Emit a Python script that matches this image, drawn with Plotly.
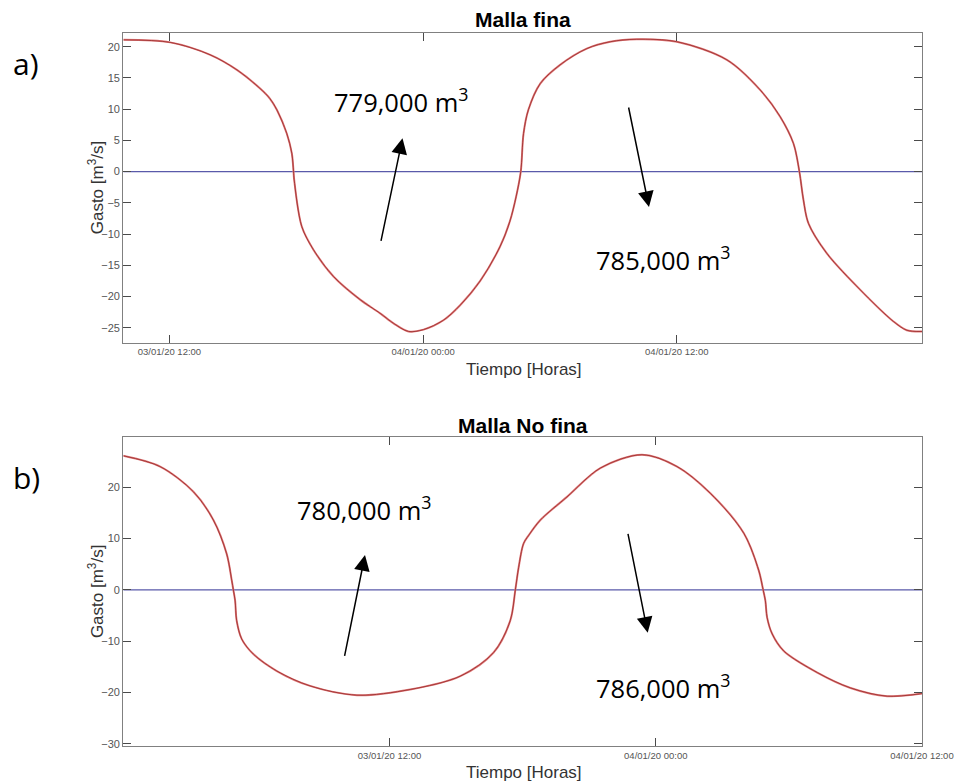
import pandas as pd
import plotly.graph_objects as go

# ---------------- data ----------------
t0 = pd.Timestamp("2020-01-03 00:00")

# a) Malla fina: hours since 03/01/20 00:00 and discharge [m3/s]
hours_fina = [9.82, 12.03, 13.93, 15.19, 16.29, 16.75, 17.08, 17.55, 17.79, 17.87,
              17.9, 18.26, 18.81, 19.76, 21.02, 21.97, 22.6, 23.31, 24.02, 24.96,
              25.75, 26.7, 27.64, 28.1, 28.4, 28.62, 28.75, 28.98, 29.54, 30.48,
              31.74, 32.85, 34.1, 36.0, 38.37, 39.94, 40.89, 41.52, 41.8, 41.99,
              42.23, 43.1, 44.67, 46.25, 46.88, 47.6]
gasto_fina = [21.1, 20.7, 18.7, 16.3, 13.3, 11.7, 9.9, 6.1, 2.9, 0.0,
              -1.3, -8.8, -12.5, -16.8, -20.5, -22.7, -24.3, -25.6, -25.3, -23.8,
              -21.4, -17.5, -12.0, -8.0, -4.0, 0.0, 6.1, 9.9, 14.1, 17.1,
              19.7, 20.8, 21.2, 20.8, 17.9, 13.1, 8.8, 4.5, 0.0, -4.5,
              -8.3, -13.1, -18.9, -24.0, -25.4, -25.6]

# b) Malla No fina
hours_nofina = [0.0, 1.66, 3.16, 4.06, 4.66, 4.89, 4.96, 5.04, 5.11, 5.34, 5.86,
                6.92, 8.42, 10.53, 12.93, 15.19, 16.69, 17.44, 17.67, 17.82, 18.04,
                18.27, 18.8, 20.0, 21.5, 23.38, 24.96, 26.46, 27.97, 28.64, 28.84,
                28.94, 29.02, 29.25, 29.77, 31.28, 32.78, 34.43, 36.0]
gasto_nofina = [26.1, 24.0, 19.1, 13.6, 7.0, 1.8, 0.0, -2.1, -6.0, -9.6, -12.5,
                -15.8, -18.7, -20.5, -19.4, -16.8, -12.2, -6.0, 0.0, 4.4, 9.0,
                10.6, 13.6, 18.1, 23.7, 26.3, 24.0, 18.8, 11.0, 3.8, 0.0,
                -2.1, -5.4, -8.6, -11.9, -16.1, -19.1, -20.7, -20.2]

tick_times = ["2020-01-03 12:00", "2020-01-04 00:00", "2020-01-04 12:00"]
tick_labels = ["03/01/20 12:00", "04/01/20 00:00", "04/01/20 12:00"]
yticks_fina = [-25, -20, -15, -10, -5, 0, 5, 10, 15, 20]
yticks_nofina = [-30, -20, -10, 0, 10, 20]

volumes_fina = ["779,000", "785,000"]
volumes_nofina = ["780,000", "786,000"]


def to_time(hours):
    return [t0 + pd.Timedelta(hours=h) for h in hours]


t_fina = to_time(hours_fina)
t_nofina = to_time(hours_nofina)

W, H = 960, 784


def px(x):
    return x / W


def py(y):
    return 1 - y / H


RED_OUT = "#e07b7b"
RED_IN = "#962828"
BLUE = "#5a5aaa"
AXIS_C = "#808080"
TICK_C = "#4a4a4a"
ARIAL = "Liberation Sans, Arial, sans-serif"
CAL = "Open Sans, sans-serif"

fig = go.Figure()

for t, g, xa, ya in [(t_fina, gasto_fina, "x", "y"), (t_nofina, gasto_nofina, "x2", "y2")]:
    fig.add_trace(go.Scatter(x=[t[0], t[-1]], y=[0, 0], mode="lines",
                             line=dict(color=BLUE, width=1.2), xaxis=xa, yaxis=ya,
                             showlegend=False, hoverinfo="skip"))
    fig.add_trace(go.Scatter(x=t, y=g, mode="lines",
                             line=dict(color=RED_OUT, width=2.0, shape="spline", smoothing=0.9),
                             xaxis=xa, yaxis=ya, showlegend=False))
    fig.add_trace(go.Scatter(x=t, y=g, mode="lines",
                             line=dict(color=RED_IN, width=0.8, shape="spline", smoothing=0.9),
                             xaxis=xa, yaxis=ya, showlegend=False, hoverinfo="skip"))

common_axis = dict(showline=True, linecolor=AXIS_C, linewidth=1.3, mirror="ticks",
                   ticks="inside", ticklen=8, tickwidth=1, tickcolor=TICK_C,
                   showgrid=False, zeroline=False, automargin=False,
                   tickfont=dict(family=ARIAL, size=11, color="#555555"))
xtickfont = dict(family=ARIAL, size=9.5, color="#555555")

xdom = [px(123.3), px(922)]
fig.update_layout(
    width=W, height=H, autosize=False,
    margin=dict(l=0, r=0, t=0, b=0, pad=0),
    paper_bgcolor="white", plot_bgcolor="white",
    xaxis=dict(domain=xdom, anchor="y", type="date",
               range=["2020-01-03 09:49", "2020-01-04 23:36"],
               tickvals=tick_times, ticktext=tick_labels,
               **{**common_axis, "tickfont": xtickfont}),
    yaxis=dict(domain=[py(342.7), py(33)], anchor="x", range=[-27.4, 22.2],
               tickvals=yticks_fina, **common_axis),
    xaxis2=dict(domain=xdom, anchor="y2", type="date",
                range=["2020-01-03 00:00", "2020-01-04 12:00"],
                tickvals=tick_times, ticktext=tick_labels,
                **{**common_axis, "tickfont": xtickfont}),
    yaxis2=dict(domain=[py(746), py(437.3)], anchor="x2", range=[-30.4, 29.7],
                tickvals=yticks_nofina, **common_axis),
)

ann = []
# panel titles and axis titles
for title, ytitle, yx, ymid in [("Malla fina", 20, 369, 187.8), ("Malla No fina", 425, 772.5, 591.6)]:
    ann.append(dict(text=f"<b>{title}</b>", x=px(522.7), y=py(ytitle), xref="paper", yref="paper",
                    showarrow=False, font=dict(family=ARIAL, size=21, color="black"),
                    xanchor="center", yanchor="middle"))
    ann.append(dict(text="Tiempo [Horas]", x=px(524), y=py(yx), xref="paper", yref="paper",
                    showarrow=False, font=dict(family=ARIAL, size=17, color="#333333"),
                    xanchor="center", yanchor="middle"))
    ann.append(dict(text="Gasto [m<sup>3</sup>/s]", x=px(95.5), y=py(ymid), xref="paper", yref="paper",
                    showarrow=False, textangle=-90, font=dict(family=ARIAL, size=17, color="#333333"),
                    xanchor="center", yanchor="middle"))

# panel letters
ann.append(dict(text="a)", x=px(11), y=py(64), xref="paper", yref="paper", showarrow=False,
                font=dict(family=CAL, size=30, color="black"), xanchor="left", yanchor="middle"))
ann.append(dict(text="b)", x=px(11), y=py(477), xref="paper", yref="paper", showarrow=False,
                font=dict(family=CAL, size=30, color="black"), xanchor="left", yanchor="middle"))

# volume labels
for vol, lx, ly in [(volumes_fina[0], 331.7, 100.4), (volumes_fina[1], 594.3, 259),
                    (volumes_nofina[0], 295, 508), (volumes_nofina[1], 594.3, 686)]:
    ann.append(dict(text=f"{vol} m<sup>3</sup>", x=px(lx), y=py(ly), xref="paper", yref="paper",
                    showarrow=False, font=dict(family=CAL, size=25.5, color="black"),
                    xanchor="left", yanchor="middle"))

# arrows (tip position, tail offset in pixels)
for tipx, tipy, axo, ayo in [(402.5, 138.3, -21.8, 104), (649, 207, -20.7, -101),
                             (365, 555, -20.7, 102.3), (647.7, 632.7, -20, -100.4)]:
    ann.append(dict(text="", x=px(tipx), y=py(tipy), xref="paper", yref="paper",
                    showarrow=True, ax=axo, ay=ayo, arrowhead=2, arrowsize=2.1,
                    arrowwidth=1.5, arrowcolor="black"))

fig.update_layout(annotations=ann)
fig.write_html("out.html")
